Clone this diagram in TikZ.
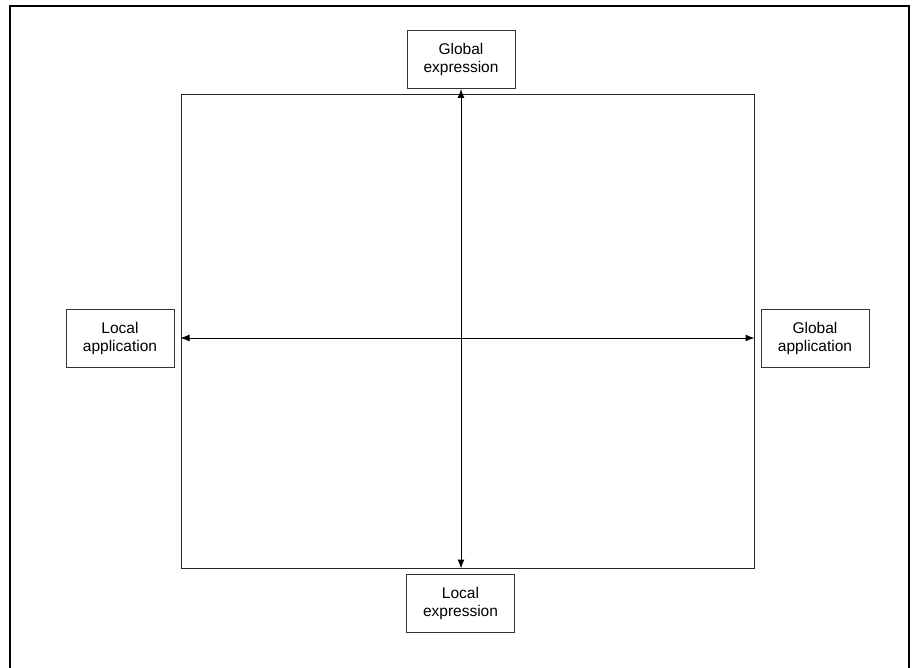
\documentclass[tikz,border=0pt]{standalone}
\usepackage{fontspec}
\setmainfont{Liberation Sans}
\usetikzlibrary{arrows.meta, positioning, calc}
\tikzset{>={Latex[length=9pt,width=7pt]}}
\tikzset{
  axisbox/.style={rectangle, draw=black!80, line width=0.9pt, minimum width=108pt, minimum height=58pt, align=center, inner sep=0pt,
    font=\fontsize{15.5}{18}\selectfont},
  axis/.style={<->, line width=1pt},
  frame/.style={rectangle, draw=black!85, line width=1pt, inner sep=0pt}
}

\begin{document}
\begin{tikzpicture}[x=1pt, y=-1pt]
\useasboundingbox (0,0) rectangle (915,668);

% outer border (open at the bottom)
\draw[line width=2pt] (10,668) -- (10,6) -- (909,6) -- (909,668);

% inner field
\node[frame, minimum width=573pt, minimum height=473pt] (field) at (467.5,331.5) {};

% the four poles
\node[axisbox] (gexp) at (461,59.5) {Global\\expression};
\node[axisbox] (lexp) at (460.5,603) {Local\\expression};
\node[axisbox] (lapp) at (120,338) {Local\\application};
\node[axisbox] (gapp) at (815,338.5) {Global\\application};

% axes
\draw[axis] (gexp.south) -- (gexp.south |- field.south);
\draw[axis] (lapp.east -| field.west) -- (lapp.east -| field.east);

\end{tikzpicture}
\end{document}
